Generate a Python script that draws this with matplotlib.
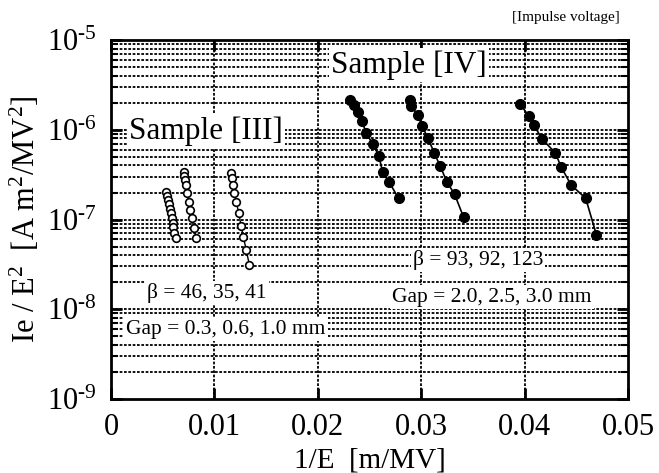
import matplotlib
matplotlib.use("Agg")
import matplotlib.pyplot as plt
from matplotlib.ticker import LogLocator, NullFormatter, FixedLocator

plt.rcParams['font.family'] = ['Liberation Serif', 'DejaVu Serif']
plt.rcParams['mathtext.fontset'] = 'custom'
plt.rcParams['mathtext.rm'] = 'Liberation Serif'
plt.rcParams['mathtext.it'] = 'Liberation Serif:italic'

# ---- data (1/E [m/MV], Ie/E^2 [A m^2/MV^2]) ----
# Sample [III] (open circles), gaps 0.3, 0.6, 1.0 mm
s3_g03_x = [0.00532, 0.00539, 0.00549, 0.00559, 0.00568, 0.00578, 0.00588, 0.00597, 0.00603, 0.00613, 0.00629]
s3_g03_y = [2.04e-7, 1.83e-7, 1.65e-7, 1.48e-7, 1.31e-7, 1.17e-7, 1.04e-7, 9.2e-8, 8.2e-8, 7.1e-8, 6.3e-8]
s3_g06_x = [0.00707, 0.00710, 0.00716, 0.00726, 0.00739, 0.00752, 0.00765, 0.00782, 0.00801, 0.00823]
s3_g06_y = [3.41e-7, 3.05e-7, 2.75e-7, 2.44e-7, 1.96e-7, 1.58e-7, 1.28e-7, 1.03e-7, 8.1e-8, 6.2e-8]
s3_g10_x = [0.01162, 0.01174, 0.01181, 0.01194, 0.01210, 0.01236, 0.01258, 0.01281, 0.01307, 0.01339]
s3_g10_y = [3.32e-7, 2.88e-7, 2.42e-7, 1.99e-7, 1.58e-7, 1.19e-7, 8.5e-8, 6.4e-8, 4.6e-8, 3.1e-8]
# Sample [IV] (filled circles), gaps 2.0, 2.5, 3.0 mm
s4_g20_x = [0.02314, 0.02352, 0.02388, 0.02427, 0.02469, 0.02533, 0.02591, 0.02626, 0.02691, 0.02781]
s4_g20_y = [2.14e-6, 1.89e-6, 1.59e-6, 1.25e-6, 9.1e-7, 6.9e-7, 5.1e-7, 3.41e-7, 2.6e-7, 1.72e-7]
s4_g25_x = [0.02888, 0.02904, 0.02965, 0.03008, 0.03066, 0.03127, 0.03185, 0.03250, 0.03323, 0.03410]
s4_g25_y = [2.14e-6, 1.85e-6, 1.46e-6, 1.11e-6, 8.0e-7, 5.5e-7, 3.9e-7, 2.6e-7, 1.91e-7, 1.06e-7]
s4_g30_x = [0.03959, 0.04040, 0.04088, 0.04169, 0.04298, 0.04353, 0.04450, 0.04591, 0.04695]
s4_g30_y = [1.92e-6, 1.42e-6, 1.13e-6, 7.9e-7, 5.5e-7, 3.85e-7, 2.42e-7, 1.72e-7, 6.7e-8]

x_ticks = [0, 0.01, 0.02, 0.03, 0.04, 0.05]
x_ticklabels = ['0', '0.01', '0.02', '0.03', '0.04', '0.05']
y_ticks = [1e-9, 1e-8, 1e-7, 1e-6, 1e-5]
y_ticklabels = ['10$^{\u20109}$', '10$^{\u20108}$', '10$^{\u20107}$', '10$^{\u20106}$', '10$^{\u20105}$']

fig = plt.figure(figsize=(6.59, 4.73), dpi=100)
ax = fig.add_axes([0.1684, 0.1564, 0.7846, 0.759])
ax.set_yscale('log')
ax.set_xlim(0, 0.05)
ax.set_ylim(1e-9, 1e-5)

# grid
grid_kw = dict(color='black', linewidth=1.3, linestyle=(0, (1.5, 0.9)), zorder=1)
for xv in x_ticks[1:-1]:
    ax.axvline(xv, **grid_kw)
for dec in [1e-9, 1e-8, 1e-7, 1e-6]:
    for m in range(1, 10):
        v = dec * m
        if 1e-9 < v < 1e-5:
            ax.axhline(v, **grid_kw)

for xs, ys in [(s3_g03_x, s3_g03_y), (s3_g06_x, s3_g06_y), (s3_g10_x, s3_g10_y)]:
    ax.plot(xs, ys, '-', color='black', lw=1.0, zorder=3)
    ax.plot(xs, ys, 'o', ms=5.5, mfc='white', mec='black', mew=1.2, zorder=4)
for xs, ys in [(s4_g20_x, s4_g20_y), (s4_g25_x, s4_g25_y), (s4_g30_x, s4_g30_y)]:
    ax.plot(xs, ys, '-', color='black', lw=1.2, zorder=3)
    ax.plot(xs, ys, 'o', ms=7, mfc='black', mec='black', zorder=4)

ax.xaxis.set_major_locator(FixedLocator(x_ticks))
ax.set_xticklabels(x_ticklabels)
ax.yaxis.set_major_locator(FixedLocator(y_ticks))
ax.set_yticklabels(y_ticklabels)
ax.yaxis.set_minor_locator(LogLocator(base=10, subs=range(2, 10), numticks=20))
ax.yaxis.set_minor_formatter(NullFormatter())
ax.tick_params(axis='both', which='both', direction='in', top=True, right=True)
ax.tick_params(axis='x', which='major', length=8, width=2, labelsize=22, pad=10)
ax.tick_params(axis='y', which='major', length=8, width=2, labelsize=22, pad=10)
ax.tick_params(axis='y', which='minor', length=5, width=1.5)
for s in ax.spines.values():
    s.set_linewidth(2)

ax.set_xlabel('1/E  [m/MV]', fontsize=21, labelpad=4)
ax.set_ylabel('Ie / E$^2$  [A m$^2$/MV$^2$]', fontsize=22, labelpad=4)

bb = dict(facecolor='white', edgecolor='none', pad=1.5)
ax.text(0.576, 0.930, 'Sample [IV]', transform=ax.transAxes, fontsize=22.5,
        ha='center', va='center', bbox=bb, zorder=5)
ax.text(0.184, 0.747, 'Sample [III]', transform=ax.transAxes, fontsize=22.5,
        ha='center', va='center', bbox=bb, zorder=5)
ax.text(0.186, 0.295, 'β = 46, 35, 41', transform=ax.transAxes, fontsize=15.5,
        ha='center', va='center', bbox=bb, zorder=5)
ax.text(0.222, 0.195, 'Gap = 0.3, 0.6, 1.0 mm', transform=ax.transAxes, fontsize=15.5,
        ha='center', va='center', bbox=bb, zorder=5)
ax.text(0.710, 0.387, 'β = 93, 92, 123', transform=ax.transAxes, fontsize=15.5,
        ha='center', va='center', bbox=bb, zorder=5)
ax.text(0.737, 0.284, 'Gap = 2.0, 2.5, 3.0 mm', transform=ax.transAxes, fontsize=15.5,
        ha='center', va='center', bbox=bb, zorder=5)
fig.text(0.859, 0.962, '[Impulse voltage]', fontsize=11, ha='center', va='center')

fig.savefig('out.png', dpi=100)
